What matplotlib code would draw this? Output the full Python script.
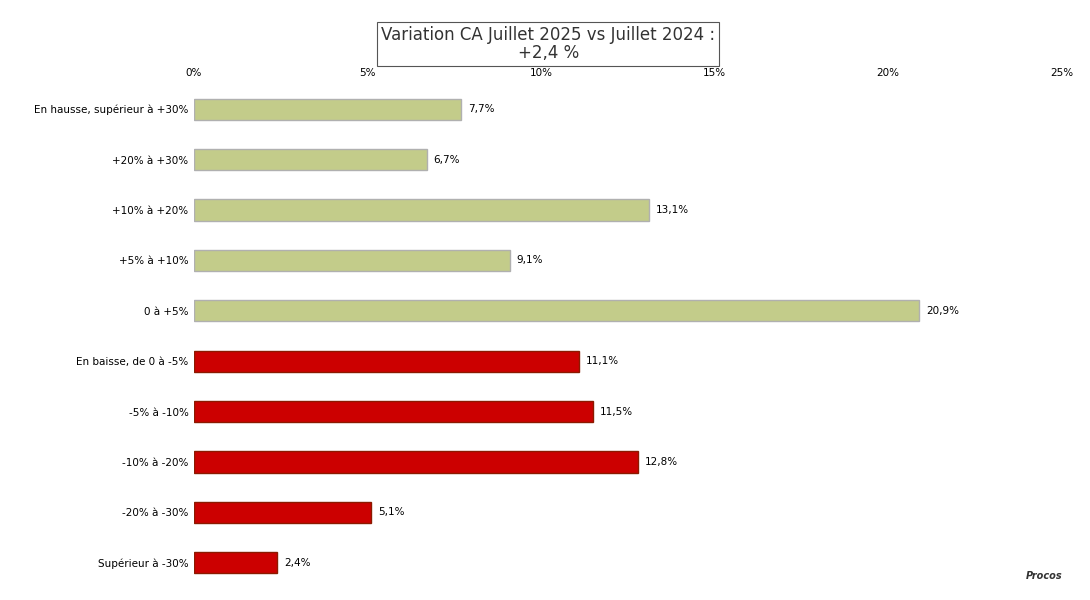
import matplotlib
matplotlib.use("Agg")
import matplotlib.pyplot as plt

categories = ["En hausse, supérieur à +30%", "+20% à +30%", "+10% à +20%", "+5% à +10%", "0 à +5%",
              "En baisse, de 0 à -5%", "-5% à -10%", "-10% à -20%", "-20% à -30%", "Supérieur à -30%"]
values = [7.7, 6.7, 13.1, 9.1, 20.9, 11.1, 11.5, 12.8, 5.1, 2.4]
labels = ["7,7%", "6,7%", "13,1%", "9,1%", "20,9%", "11,1%", "11,5%", "12,8%", "5,1%", "2,4%"]
ticks = [0, 5, 10, 15, 20, 25]

fig = plt.figure(figsize=(10.9, 6.0), dpi=100)
ax = fig.add_axes([0.178, 0.02, 0.796, 0.84])
colors = ["#c3cc8a"] * 5 + ["#cc0000"] * 5
edges = ["#b0b0b0"] * 5 + ["#8b1a00"] * 5
y = list(range(len(categories)))
ax.barh(y, values, height=0.42, color=colors, edgecolor=edges, linewidth=1)
for yi, v, l in zip(y, values, labels):
    ax.text(v + 0.2, yi, l, va="center", ha="left", fontsize=7.5)
ax.set_yticks(y)
ax.set_yticklabels(categories, fontsize=7.5)
ax.set_ylim(len(categories) - 0.5, -0.5)
ax.set_xlim(0, 25)
ax.set_xticks(ticks)
ax.set_xticklabels([f"{t}%" for t in ticks], fontsize=7.5)
ax.xaxis.tick_top()
ax.tick_params(length=0, pad=4)
for s in ax.spines.values():
    s.set_visible(False)
fig.text(0.503, 0.927, "Variation CA Juillet 2025 vs Juillet 2024 :\n+2,4 %", ha="center", va="center",
         fontsize=12, color="#333333", linespacing=1.0,
         bbox=dict(boxstyle="square,pad=0.25", facecolor="white", edgecolor="#555555", linewidth=0.8))
fig.text(0.975, 0.04, "Procos", ha="right", va="center", fontsize=7, style="italic", fontweight="bold", color="#333333")
fig.savefig("out.png", dpi=100)
